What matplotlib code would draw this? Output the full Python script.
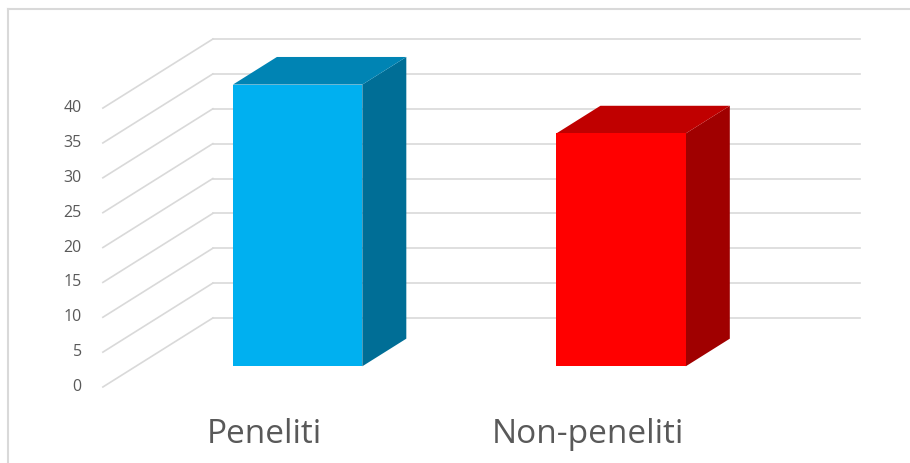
import matplotlib.pyplot as plt
from matplotlib.patches import Polygon

categories = ['Peneliti', 'Non-peneliti']
values = [40.4, 33.4]
ticks = [0, 5, 10, 15, 20, 25, 30, 35, 40]

front_colors = ['#00B0F0', '#FF0000']
top_colors = ['#0084B4', '#C00000']
side_colors = ['#006E96', '#A00000']

# oblique projection: offset of full depth in data units
DX = 0.34
DY = 9.9
BAR_W = 0.4
BAR_Z0 = 0.3   # front of bar, fraction of depth
BAR_Z1 = 0.7   # back of bar
GRID = '#D9D9D9'

fig = plt.figure(figsize=(9.1, 4.63), dpi=100)
ax = fig.add_axes([0, 0, 1, 1])
ax.set_xlim(-0.318, 2.495)
ax.set_ylim(-10.9, 55.5)
ax.axis('off')

# frame
ax.plot([-0.294, -0.294], [-10.9, 54.2], color='#D9D9D9', lw=1.5, zorder=0)
ax.plot([-0.294, 2.495], [54.2, 54.2], color='#D9D9D9', lw=1.5, zorder=0)

n = len(categories)
for t in ticks:
    # back wall
    ax.plot([DX, n + DX], [t + DY, t + DY], color=GRID, lw=1.2, zorder=1)
    # side wall
    ax.plot([0, DX], [t, t + DY], color=GRID, lw=1.2, zorder=1)
    ax.text(-0.065, t, str(t), ha='right', va='center', fontsize=11.5,
            color='#595959', family='Open Sans')


def pt(x, y, z):
    return (x + z * DX, y + z * DY)


for i, (cat, v) in enumerate(zip(categories, values)):
    c = i + 0.5
    x0, x1 = c - BAR_W / 2, c + BAR_W / 2
    front = [pt(x0, 0, BAR_Z0), pt(x1, 0, BAR_Z0), pt(x1, v, BAR_Z0), pt(x0, v, BAR_Z0)]
    top = [pt(x0, v, BAR_Z0), pt(x1, v, BAR_Z0), pt(x1, v, BAR_Z1), pt(x0, v, BAR_Z1)]
    side = [pt(x1, 0, BAR_Z0), pt(x1, 0, BAR_Z1), pt(x1, v, BAR_Z1), pt(x1, v, BAR_Z0)]
    ax.add_patch(Polygon(side, closed=True, fc=side_colors[i], ec='none', zorder=3))
    ax.add_patch(Polygon(top, closed=True, fc=top_colors[i], ec='none', zorder=3))
    ax.add_patch(Polygon(front, closed=True, fc=front_colors[i], ec='none', zorder=4))

for i, cat in enumerate(categories):
    ax.text(i + 0.5, -8.0, cat, ha='center', va='baseline',
            fontsize=24, color='#595959', family='Open Sans')

fig.savefig('out.png', dpi=100)
